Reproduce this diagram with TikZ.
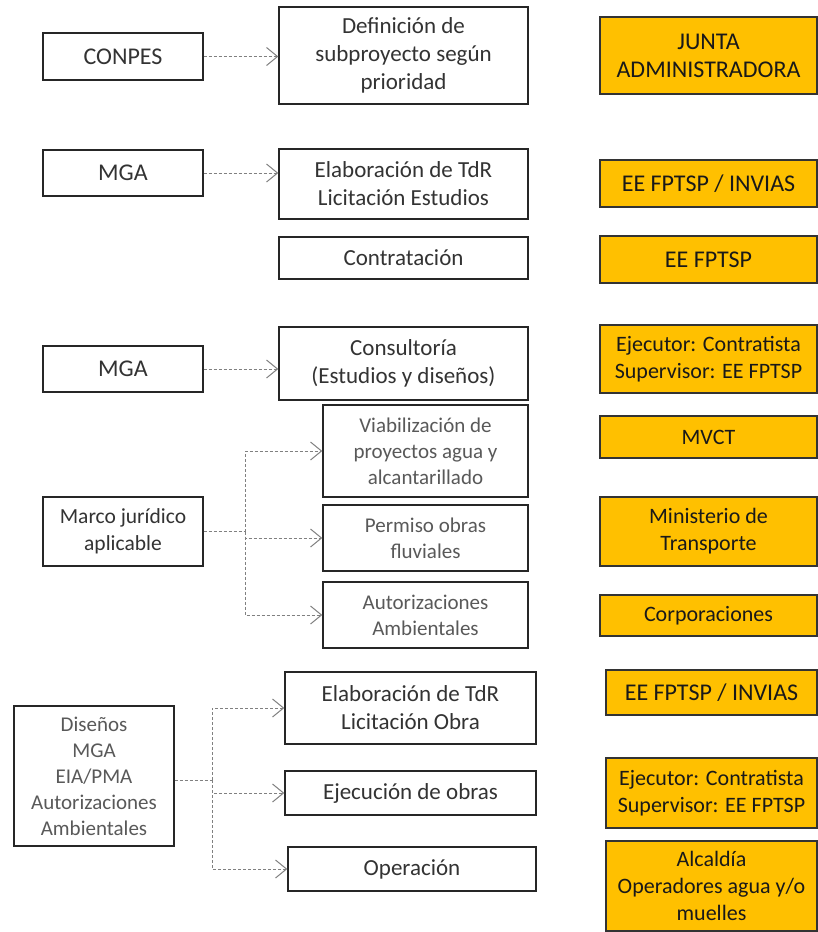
\documentclass[tikz,border=0pt]{standalone}
\usepackage{fontspec}
\setmainfont{Carlito}
\usetikzlibrary{arrows.meta,positioning}
\definecolor{gold}{HTML}{FFC000}
\newcommand{\bigtxt}{\fontsize{24}{28}\selectfont}
\newcommand{\midtxt}{\fontsize{23}{28}\selectfont}
\newcommand{\smalltxt}{\fontsize{21}{26}\selectfont}
\newcommand{\righttxt}{\fontsize{22}{27}\selectfont}
\begin{document}
\begin{tikzpicture}[x=1pt, y=-1pt,
  wbox/.style={draw=black!85, line width=1.4pt, fill=white, text=black!80, align=center, inner sep=0pt},
  gbox/.style={wbox, text=black!65},
  ybox/.style={draw=black!80, line width=1.1pt, fill=gold, text=black!90, align=center, inner sep=0pt},
  link/.style={draw=black!50, line width=1pt, dash pattern=on 3pt off 2pt, -{Straight Barb[length=11pt,width=18pt,line width=1pt]}}]
\useasboundingbox (0,0) rectangle (817,932);
\node[wbox, minimum width=160, minimum height=47, font=\bigtxt] (conpes) at (123,56.5) {CONPES};
\node[wbox, minimum width=160, minimum height=46, font=\bigtxt] (mga1) at (123,173) {MGA};
\node[wbox, minimum width=160, minimum height=46, font=\bigtxt] (mga2) at (123,369) {MGA};
\node[wbox, minimum width=160, minimum height=69, font=\fontsize{21.5}{27}\selectfont] (marco) at (123,531.5) {Marco jurídico\\aplicable};
\node[gbox, minimum width=160, minimum height=140, font=\smalltxt] (disenos) at (94,776) {Diseños\\MGA\\EIA/PMA\\Autorizaciones\\Ambientales};
\node[wbox, minimum width=249, minimum height=97, font=\midtxt] (def) at (403.5,55.5) {Definición de\\subproyecto según\\prioridad};
\node[wbox, minimum width=249, minimum height=70, font=\midtxt] (elabE) at (403.5,184) {Elaboración de TdR\\Licitación Estudios};
\node[wbox, minimum width=249, minimum height=42, font=\midtxt] (contr) at (403.5,258) {Contratación};
\node[wbox, minimum width=249, minimum height=73, font=\midtxt] (consul) at (403.5,363.5) {Consultoría\\(Estudios y diseños)};
\node[gbox, minimum width=205, minimum height=92, font=\smalltxt] (viab) at (425.5,451) {Viabilización de\\proyectos agua y\\alcantarillado};
\node[gbox, minimum width=205, minimum height=66, font=\smalltxt] (permiso) at (425.5,538) {Permiso obras\\fluviales};
\node[gbox, minimum width=205, minimum height=66, font=\smalltxt] (autor) at (425.5,615) {Autorizaciones\\Ambientales};
\node[wbox, minimum width=251, minimum height=72, font=\midtxt] (elabO) at (410.5,708) {Elaboración de TdR\\Licitación Obra};
\node[wbox, minimum width=251, minimum height=44, font=\midtxt] (ejec) at (410.5,793) {Ejecución de obras};
\node[wbox, minimum width=248, minimum height=44, font=\midtxt] (oper) at (412,869) {Operación};
\node[ybox, minimum width=217, minimum height=77, font=\bigtxt] (junta) at (708.5,55.5) {JUNTA\\ADMINISTRADORA};
\node[ybox, minimum width=217, minimum height=47, font=\bigtxt] (inv1) at (708.5,183.5) {EE FPTSP / INVIAS};
\node[ybox, minimum width=217, minimum height=47, font=\bigtxt] (eef) at (708.5,259.5) {EE FPTSP};
\node[ybox, minimum width=217, minimum height=68, font=\righttxt] (ejec1) at (708.5,359) {Ejecutor: Contratista\\Supervisor: EE FPTSP};
\node[ybox, minimum width=217, minimum height=42, font=\righttxt] (mvct) at (708.5,437) {MVCT};
\node[ybox, minimum width=217, minimum height=69, font=\righttxt] (minis) at (708.5,531.5) {Ministerio de\\Transporte};
\node[ybox, minimum width=217, minimum height=41, font=\righttxt] (corp) at (708.5,615.5) {Corporaciones};
\node[ybox, minimum width=211, minimum height=45, font=\bigtxt] (inv2) at (711.5,692.5) {EE FPTSP / INVIAS};
\node[ybox, minimum width=211, minimum height=70, font=\righttxt] (ejec2) at (711.5,793) {Ejecutor: Contratista\\Supervisor: EE FPTSP};
\node[ybox, minimum width=211, minimum height=90, font=\righttxt] (alcal) at (711.5,886) {Alcaldía\\Operadores agua y/o\\muelles};
\draw[link] (conpes.east) -- (conpes.east -| def.west);
\draw[link] (mga1.east) -- (mga1.east -| elabE.west);
\draw[link] (mga2.east) -- (mga2.east -| consul.west);
\coordinate (mj) at (245,531.5);
\draw[link, -] (marco.east) -- (mj);
\draw[link] (mj) |- (viab.west);
\draw[link] (mj) |- (permiso.west);
\draw[link] (mj) |- (autor.west);
\coordinate (dt) at (212,780);
\draw[link, -] (disenos.east |- dt) -- (dt);
\draw[link] (dt) |- (elabO.west);
\draw[link] (dt) |- (ejec.west);
\draw[link] (dt) |- (oper.west);
\end{tikzpicture}
\end{document}
